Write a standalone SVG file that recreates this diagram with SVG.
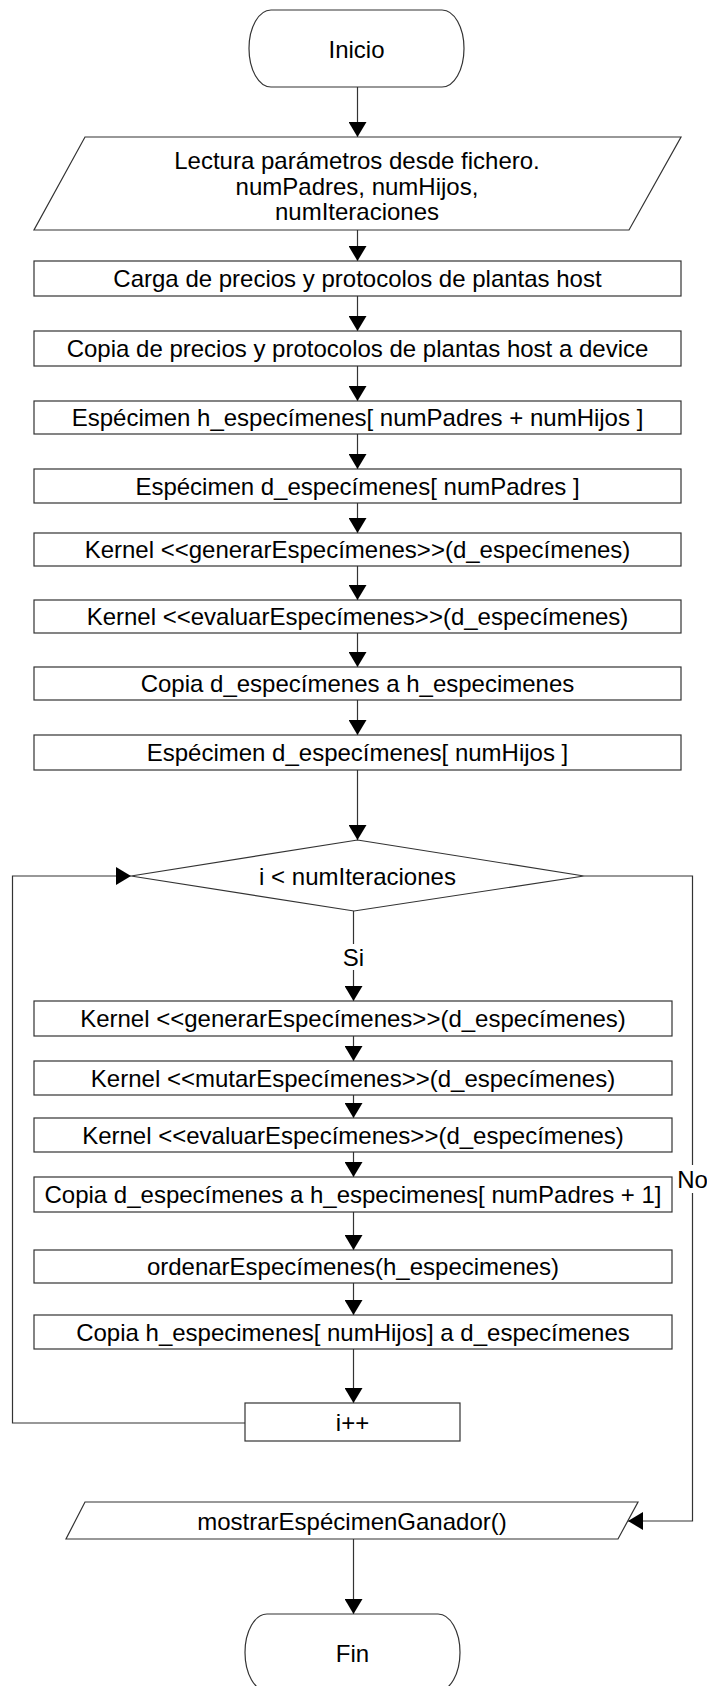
<svg xmlns="http://www.w3.org/2000/svg" width="707" height="1686" viewBox="0 0 707 1686">
<style>
.shape{fill:#fff;stroke:#333;stroke-width:1.2}
.conn{fill:none;stroke:#333;stroke-width:1.2}
text{font-family:"Liberation Sans",Arial,sans-serif;font-size:24px;fill:#000;text-anchor:middle;dominant-baseline:central}
</style>
<defs>
<marker id="ah" markerUnits="userSpaceOnUse" markerWidth="16" markerHeight="18" refX="15" refY="9" orient="auto">
<path d="M0,0 L15,9 L0,18 Z" fill="#000"/>
</marker>
</defs>
<rect width="707" height="1686" fill="#fff"/>
<g id="connectors">
<line class="conn" x1="357.5" y1="87" x2="357.5" y2="137" marker-end="url(#ah)"/>
<line class="conn" x1="357.5" y1="230" x2="357.5" y2="261" marker-end="url(#ah)"/>
<line class="conn" x1="357.5" y1="296" x2="357.5" y2="331" marker-end="url(#ah)"/>
<line class="conn" x1="357.5" y1="366" x2="357.5" y2="401" marker-end="url(#ah)"/>
<line class="conn" x1="357.5" y1="434" x2="357.5" y2="469" marker-end="url(#ah)"/>
<line class="conn" x1="357.5" y1="503" x2="357.5" y2="533" marker-end="url(#ah)"/>
<line class="conn" x1="357.5" y1="566" x2="357.5" y2="600" marker-end="url(#ah)"/>
<line class="conn" x1="357.5" y1="633" x2="357.5" y2="667" marker-end="url(#ah)"/>
<line class="conn" x1="357.5" y1="700" x2="357.5" y2="735" marker-end="url(#ah)"/>
<line class="conn" x1="357.5" y1="770" x2="357.5" y2="840" marker-end="url(#ah)"/>
<line class="conn" x1="353.5" y1="911" x2="353.5" y2="944"/>
<line class="conn" x1="353.5" y1="970" x2="353.5" y2="1001" marker-end="url(#ah)"/>
<line class="conn" x1="353.5" y1="1036" x2="353.5" y2="1061" marker-end="url(#ah)"/>
<line class="conn" x1="353.5" y1="1095" x2="353.5" y2="1118" marker-end="url(#ah)"/>
<line class="conn" x1="353.5" y1="1152" x2="353.5" y2="1177" marker-end="url(#ah)"/>
<line class="conn" x1="353.5" y1="1212" x2="353.5" y2="1250" marker-end="url(#ah)"/>
<line class="conn" x1="353.5" y1="1283" x2="353.5" y2="1315" marker-end="url(#ah)"/>
<line class="conn" x1="353.5" y1="1349" x2="353.5" y2="1403" marker-end="url(#ah)"/>
<polyline class="conn" points="245,1423 12.5,1423 12.5,876 131,876" marker-end="url(#ah)"/>
<polyline class="conn" points="584,876 692.5,876 692.5,1165"/>
<polyline class="conn" points="692.5,1193 692.5,1521 628,1521" marker-end="url(#ah)"/>
<line class="conn" x1="353.5" y1="1539" x2="353.5" y2="1614" marker-end="url(#ah)"/>
<text x="353.5" y="957">Si</text>
<text x="692.5" y="1179">No</text>
</g>
<g id="inicio"><rect class="shape" x="249" y="10" width="215" height="77" rx="22" ry="38.5"/><text x="356.5" y="49">Inicio</text></g>
<g id="lectura"><polygon class="shape" points="85,137 681,137 629,230 34,230"/>
<text x="357" y="160">Lectura parámetros desde fichero.</text>
<text x="357" y="186">numPadres, numHijos,</text>
<text x="357" y="211">numIteraciones</text></g>
<g id="carga"><rect class="shape" x="34" y="261" width="647" height="35"/><text x="357.5" y="278.5">Carga de precios y protocolos de plantas host</text></g>
<g id="copia-device"><rect class="shape" x="34" y="331" width="647" height="35"/><text x="357.5" y="348.5">Copia de precios y protocolos de plantas host a device</text></g>
<g id="h-especimenes"><rect class="shape" x="34" y="401" width="647" height="33"/><text x="357.5" y="417.5">Espécimen h_especímenes[ numPadres + numHijos ]</text></g>
<g id="d-especimenes-padres"><rect class="shape" x="34" y="469" width="647" height="34"/><text x="357.5" y="486">Espécimen d_especímenes[ numPadres ]</text></g>
<g id="generar1"><rect class="shape" x="34" y="533" width="647" height="33"/><text x="357.5" y="549.5">Kernel &lt;&lt;generarEspecímenes&gt;&gt;(d_especímenes)</text></g>
<g id="evaluar1"><rect class="shape" x="34" y="600" width="647" height="33"/><text x="357.5" y="616.5">Kernel &lt;&lt;evaluarEspecímenes&gt;&gt;(d_especímenes)</text></g>
<g id="copia-dh"><rect class="shape" x="34" y="667" width="647" height="33"/><text x="357.5" y="683.5">Copia d_especímenes a h_especimenes</text></g>
<g id="d-especimenes-hijos"><rect class="shape" x="34" y="735" width="647" height="35"/><text x="357.5" y="752.5">Espécimen d_especímenes[ numHijos ]</text></g>
<g id="decision"><polygon class="shape" points="357.5,840 584,876 354,911 131,876"/><text x="357.5" y="876">i &lt; numIteraciones</text></g>
<g id="generar2"><rect class="shape" x="34" y="1001" width="638" height="35"/><text x="353" y="1018.5">Kernel &lt;&lt;generarEspecímenes&gt;&gt;(d_especímenes)</text></g>
<g id="mutar"><rect class="shape" x="34" y="1061" width="638" height="34"/><text x="353" y="1078">Kernel &lt;&lt;mutarEspecímenes&gt;&gt;(d_especímenes)</text></g>
<g id="evaluar2"><rect class="shape" x="34" y="1118" width="638" height="34"/><text x="353" y="1135">Kernel &lt;&lt;evaluarEspecímenes&gt;&gt;(d_especímenes)</text></g>
<g id="copia-padres"><rect class="shape" x="34" y="1177" width="638" height="35"/><text x="353" y="1194.5">Copia d_especímenes a h_especimenes[ numPadres + 1]</text></g>
<g id="ordenar"><rect class="shape" x="34" y="1250" width="638" height="33"/><text x="353" y="1266.5">ordenarEspecímenes(h_especimenes)</text></g>
<g id="copia-hijos"><rect class="shape" x="34" y="1315" width="638" height="34"/><text x="353" y="1332">Copia h_especimenes[ numHijos] a d_especímenes</text></g>
<g id="incremento"><rect class="shape" x="245" y="1403" width="215" height="38"/><text x="352.5" y="1422">i++</text></g>
<g id="mostrar"><polygon class="shape" points="85,1502 638,1502 618,1539 66,1539"/><text x="352" y="1521">mostrarEspécimenGanador()</text></g>
<g id="fin"><rect class="shape" x="245" y="1614" width="215" height="77" rx="22" ry="38.5"/><text x="352.5" y="1653">Fin</text></g>
</svg>
